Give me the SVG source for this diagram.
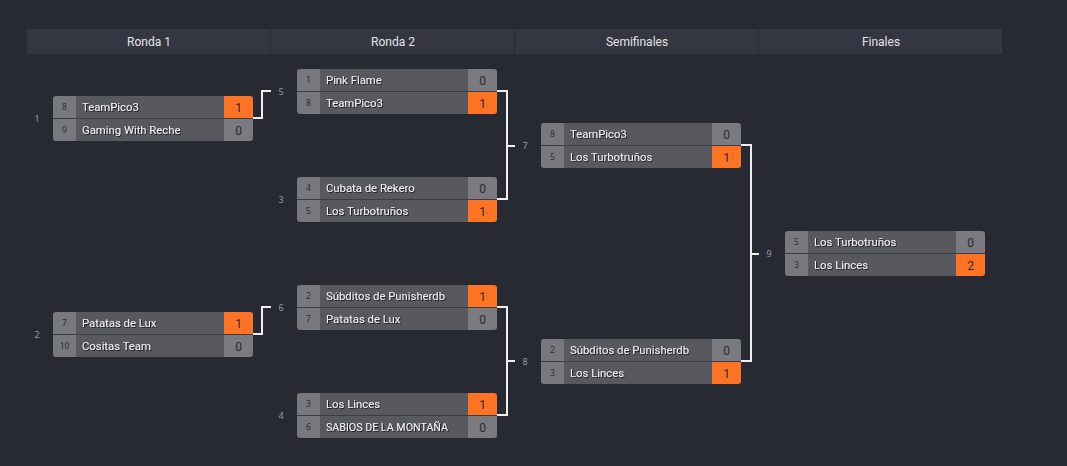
<svg xmlns="http://www.w3.org/2000/svg" width="1067" height="466" viewBox="0 0 1067 466">
<defs>
<style>
.hdr{fill:#343741}
.htx{font-family:Roboto,"Noto Sans",sans-serif;font-size:12px;fill:#e4e4e4;text-anchor:middle}
.seed{fill:#78787f}
.name{fill:#58585f}
.sc{fill:#7a7a80}
.win{fill:#ff7324}
.sep{stroke:#3b3c44;stroke-width:1}
.sd{font-family:"Noto Sans","DejaVu Sans",sans-serif;font-size:8.5px;fill:#2e2e33;text-anchor:middle}
.nm{font-family:Roboto,"Noto Sans",sans-serif;font-size:11.3px;fill:#f2f2f2}
.sn{font-family:Roboto,"Noto Sans",sans-serif;font-size:12px;fill:#2a2a2e;text-anchor:middle}
.mn{font-family:"Noto Sans","DejaVu Sans",sans-serif;font-size:9px;fill:#9a9aa2;text-anchor:middle}
.con{fill:none;stroke:#f0f0f0;stroke-width:2}
</style>
<filter id="ts" x="-10%" y="-30%" width="130%" height="160%"><feDropShadow dx="1" dy="1" stdDeviation="0.6" flood-color="#000" flood-opacity="0.6"/></filter>
<clipPath id="rc"><rect x="0" y="0" width="200" height="45" rx="3"/></clipPath>
</defs>
<rect width="1067" height="466" fill="#272a33"/>
<g id="headers">
<rect class="hdr" x="27" y="29" width="243" height="25"/>
<rect class="hdr" x="271" y="29" width="243" height="25"/>
<rect class="hdr" x="515" y="29" width="243" height="25"/>
<rect class="hdr" x="759" y="29" width="243" height="25"/>
<text class="htx" x="149" y="46">Ronda 1</text>
<text class="htx" x="393" y="46">Ronda 2</text>
<text class="htx" x="637" y="46">Semifinales</text>
<text class="htx" x="881" y="46">Finales</text>
</g>
<g id="connectors">
<path class="con" d="M253,118 H262 V91 H271"/>
<path class="con" d="M253,334 H262 V307 H271"/>
<path class="con" d="M497,91 H507 V199 H497 M507,146 H515"/>
<path class="con" d="M497,307 H507 V415 H497 M507,361 H515"/>
<path class="con" d="M741,145 H751 V361 H741 M751,254 H759"/>
</g>
<g id="m1" transform="translate(53,96)">
<g clip-path="url(#rc)">
<rect class="seed" width="23" height="45"/><rect class="name" x="23" width="148" height="45"/>
<rect class="win" x="171" width="29" height="22.5"/><rect class="sc" x="171" y="22.5" width="29" height="22.5"/>
</g>
<line class="sep" x1="0" y1="22.5" x2="200" y2="22.5"/>
<text class="sd" x="11.5" y="14">8</text><text class="sd" x="11.5" y="37">9</text>
<g filter="url(#ts)"><text class="nm" x="29" y="15">TeamPico3</text><text class="nm" x="29" y="38">Gaming With Reche</text></g>
<text class="sn" x="185.5" y="15.5">1</text><text class="sn" x="185.5" y="38.5">0</text>
</g>
<text class="mn" x="37" y="122">1</text>
<g id="m2" transform="translate(53,312)">
<g clip-path="url(#rc)">
<rect class="seed" width="23" height="45"/><rect class="name" x="23" width="148" height="45"/>
<rect class="win" x="171" width="29" height="22.5"/><rect class="sc" x="171" y="22.5" width="29" height="22.5"/>
</g>
<line class="sep" x1="0" y1="22.5" x2="200" y2="22.5"/>
<text class="sd" x="11.5" y="14">7</text><text class="sd" x="11.5" y="37">10</text>
<g filter="url(#ts)"><text class="nm" x="29" y="15">Patatas de Lux</text><text class="nm" x="29" y="38">Cositas Team</text></g>
<text class="sn" x="185.5" y="15.5">1</text><text class="sn" x="185.5" y="38.5">0</text>
</g>
<text class="mn" x="37" y="338">2</text>
<g id="m5" transform="translate(297,69)">
<g clip-path="url(#rc)">
<rect class="seed" width="23" height="45"/><rect class="name" x="23" width="148" height="45"/>
<rect class="sc" x="171" width="29" height="22.5"/><rect class="win" x="171" y="22.5" width="29" height="22.5"/>
</g>
<line class="sep" x1="0" y1="22.5" x2="200" y2="22.5"/>
<text class="sd" x="11.5" y="14">1</text><text class="sd" x="11.5" y="37">8</text>
<g filter="url(#ts)"><text class="nm" x="29" y="15">Pink Flame</text><text class="nm" x="29" y="38">TeamPico3</text></g>
<text class="sn" x="185.5" y="15.5">0</text><text class="sn" x="185.5" y="38.5">1</text>
</g>
<text class="mn" x="281" y="95">5</text>
<g id="m3" transform="translate(297,177)">
<g clip-path="url(#rc)">
<rect class="seed" width="23" height="45"/><rect class="name" x="23" width="148" height="45"/>
<rect class="sc" x="171" width="29" height="22.5"/><rect class="win" x="171" y="22.5" width="29" height="22.5"/>
</g>
<line class="sep" x1="0" y1="22.5" x2="200" y2="22.5"/>
<text class="sd" x="11.5" y="14">4</text><text class="sd" x="11.5" y="37">5</text>
<g filter="url(#ts)"><text class="nm" x="29" y="15">Cubata de Rekero</text><text class="nm" x="29" y="38">Los Turbotruños</text></g>
<text class="sn" x="185.5" y="15.5">0</text><text class="sn" x="185.5" y="38.5">1</text>
</g>
<text class="mn" x="281" y="203">3</text>
<g id="m6" transform="translate(297,285)">
<g clip-path="url(#rc)">
<rect class="seed" width="23" height="45"/><rect class="name" x="23" width="148" height="45"/>
<rect class="win" x="171" width="29" height="22.5"/><rect class="sc" x="171" y="22.5" width="29" height="22.5"/>
</g>
<line class="sep" x1="0" y1="22.5" x2="200" y2="22.5"/>
<text class="sd" x="11.5" y="14">2</text><text class="sd" x="11.5" y="37">7</text>
<g filter="url(#ts)"><text class="nm" x="29" y="15">Súbditos de Punisherdb</text><text class="nm" x="29" y="38">Patatas de Lux</text></g>
<text class="sn" x="185.5" y="15.5">1</text><text class="sn" x="185.5" y="38.5">0</text>
</g>
<text class="mn" x="281" y="311">6</text>
<g id="m4" transform="translate(297,393)">
<g clip-path="url(#rc)">
<rect class="seed" width="23" height="45"/><rect class="name" x="23" width="148" height="45"/>
<rect class="win" x="171" width="29" height="22.5"/><rect class="sc" x="171" y="22.5" width="29" height="22.5"/>
</g>
<line class="sep" x1="0" y1="22.5" x2="200" y2="22.5"/>
<text class="sd" x="11.5" y="14">3</text><text class="sd" x="11.5" y="37">6</text>
<g filter="url(#ts)"><text class="nm" x="29" y="15">Los Linces</text><text class="nm" x="29" y="38" textLength="122" lengthAdjust="spacingAndGlyphs">SABIOS DE LA MONTAÑA</text></g>
<text class="sn" x="185.5" y="15.5">1</text><text class="sn" x="185.5" y="38.5">0</text>
</g>
<text class="mn" x="281" y="419">4</text>
<g id="m7" transform="translate(541,123)">
<g clip-path="url(#rc)">
<rect class="seed" width="23" height="45"/><rect class="name" x="23" width="148" height="45"/>
<rect class="sc" x="171" width="29" height="22.5"/><rect class="win" x="171" y="22.5" width="29" height="22.5"/>
</g>
<line class="sep" x1="0" y1="22.5" x2="200" y2="22.5"/>
<text class="sd" x="11.5" y="14">8</text><text class="sd" x="11.5" y="37">5</text>
<g filter="url(#ts)"><text class="nm" x="29" y="15">TeamPico3</text><text class="nm" x="29" y="38">Los Turbotruños</text></g>
<text class="sn" x="185.5" y="15.5">0</text><text class="sn" x="185.5" y="38.5">1</text>
</g>
<text class="mn" x="525" y="149">7</text>
<g id="m8" transform="translate(541,339)">
<g clip-path="url(#rc)">
<rect class="seed" width="23" height="45"/><rect class="name" x="23" width="148" height="45"/>
<rect class="sc" x="171" width="29" height="22.5"/><rect class="win" x="171" y="22.5" width="29" height="22.5"/>
</g>
<line class="sep" x1="0" y1="22.5" x2="200" y2="22.5"/>
<text class="sd" x="11.5" y="14">2</text><text class="sd" x="11.5" y="37">3</text>
<g filter="url(#ts)"><text class="nm" x="29" y="15">Súbditos de Punisherdb</text><text class="nm" x="29" y="38">Los Linces</text></g>
<text class="sn" x="185.5" y="15.5">0</text><text class="sn" x="185.5" y="38.5">1</text>
</g>
<text class="mn" x="525" y="365">8</text>
<g id="m9" transform="translate(785,231)">
<g clip-path="url(#rc)">
<rect class="seed" width="23" height="45"/><rect class="name" x="23" width="148" height="45"/>
<rect class="sc" x="171" width="29" height="22.5"/><rect class="win" x="171" y="22.5" width="29" height="22.5"/>
</g>
<line class="sep" x1="0" y1="22.5" x2="200" y2="22.5"/>
<text class="sd" x="11.5" y="14">5</text><text class="sd" x="11.5" y="37">3</text>
<g filter="url(#ts)"><text class="nm" x="29" y="15">Los Turbotruños</text><text class="nm" x="29" y="38">Los Linces</text></g>
<text class="sn" x="185.5" y="15.5">0</text><text class="sn" x="185.5" y="38.5">2</text>
</g>
<text class="mn" x="769" y="257">9</text>
</svg>
